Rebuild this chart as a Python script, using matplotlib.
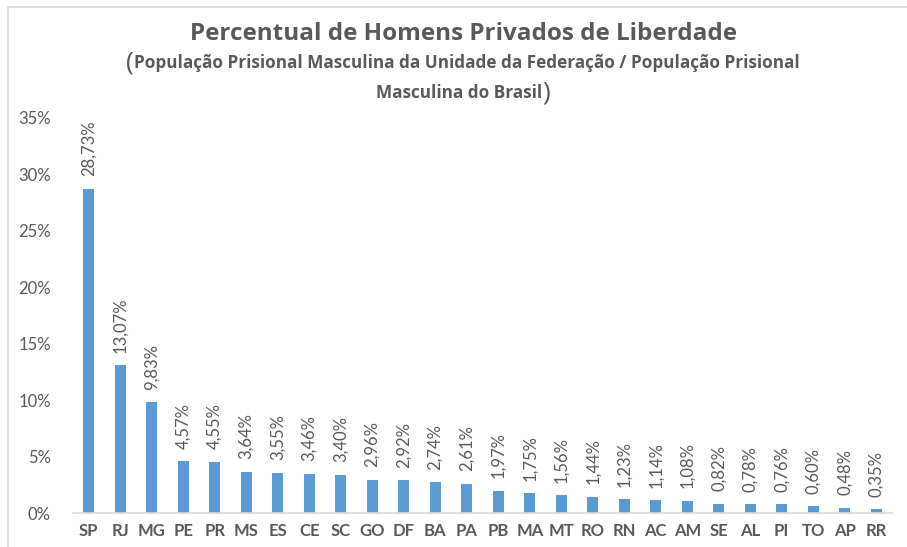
import matplotlib
matplotlib.use("Agg")
import matplotlib.pyplot as plt
from matplotlib.patches import Rectangle
from matplotlib.ticker import FuncFormatter

# dados
estados = ["SP", "RJ", "MG", "PE", "PR", "MS", "ES", "CE", "SC", "GO", "DF", "BA", "PA",
           "PB", "MA", "MT", "RO", "RN", "AC", "AM", "SE", "AL", "PI", "TO", "AP", "RR"]
percentuais = [28.73, 13.07, 9.83, 4.57, 4.55, 3.64, 3.55, 3.46, 3.40, 2.96, 2.92, 2.74, 2.61,
               1.97, 1.75, 1.56, 1.44, 1.23, 1.14, 1.08, 0.82, 0.78, 0.76, 0.60, 0.48, 0.35]
y_ticks = [0, 5, 10, 15, 20, 25, 30, 35]

titulo = "Percentual de Homens Privados de Liberdade"
sub1 = "População Prisional Masculina da Unidade da Federação / População Prisional"
sub2 = "Masculina do Brasil"

COR_BARRA = "#5B9BD5"
COR_TEXTO = "#595959"
plt.rcParams['font.family'] = ['Lato', 'DejaVu Sans']
FONTE_TITULO = ['Open Sans', 'DejaVu Sans']

fig = plt.figure(figsize=(9.07, 5.47), dpi=100, facecolor='white')
# moldura do grafico (cortada a direita e embaixo)
fig.patches.append(Rectangle((8 / 907, -0.1), 1.2, 1 - 7 / 547 + 0.1, transform=fig.transFigure,
                             facecolor='none', edgecolor='#D9D9D9', linewidth=1.2))

ax = fig.add_axes([73 / 907, 34 / 547, (892 - 73) / 907, (513 - 118) / 547])
x = range(len(estados))
ax.bar(x, percentuais, width=0.36, color=COR_BARRA, zorder=2)
ax.set_xlim(-0.5, len(estados) - 0.5)
ax.set_ylim(0, 35)
ax.set_yticks(y_ticks)
ax.yaxis.set_major_formatter(FuncFormatter(lambda v, p: f"{int(v)}%"))
ax.set_xticks(list(x))
ax.set_xticklabels(estados, fontsize=12, fontweight='bold', color=COR_TEXTO)
ax.tick_params(axis='y', length=0, labelsize=12, labelcolor=COR_TEXTO, pad=16)
ax.tick_params(axis='x', length=0, pad=7)
for s in ['top', 'right', 'left']:
    ax.spines[s].set_visible(False)
ax.spines['bottom'].set_color('#D9D9D9')
ax.spines['bottom'].set_linewidth(1.2)

for i, v in enumerate(percentuais):
    ax.annotate(f"{v:.2f}%".replace('.', ','), (i, v), xytext=(0, 9), textcoords='offset points',
                rotation=90, ha='center', va='bottom', fontsize=12, color=COR_TEXTO)

# titulo e subtitulo
fig.text(463 / 907, 1 - 40 / 547, titulo, ha='center', va='baseline', fontsize=17.5,
         fontweight='bold', color=COR_TEXTO, family=FONTE_TITULO)
t1 = fig.text(467 / 907, 1 - 68 / 547, sub1, ha='center', va='baseline', fontsize=12.3,
              fontweight='bold', color=COR_TEXTO, family=FONTE_TITULO)
t2 = fig.text(459 / 907, 1 - 98 / 547, sub2, ha='center', va='baseline', fontsize=12.3,
              fontweight='bold', color=COR_TEXTO, family=FONTE_TITULO)
r = fig.canvas.get_renderer()
b1 = t1.get_window_extent(r)
b2 = t2.get_window_extent(r)
fig.text(b1.x0 / 907, 1 - 63 / 547, "(", ha='right', va='center', fontsize=19,
         color=COR_TEXTO, family=FONTE_TITULO)
fig.text(b2.x1 / 907, 1 - 93.5 / 547, ")", ha='left', va='center', fontsize=19,
         color=COR_TEXTO, family=FONTE_TITULO)

fig.savefig("out.png", dpi=100, facecolor='white')
